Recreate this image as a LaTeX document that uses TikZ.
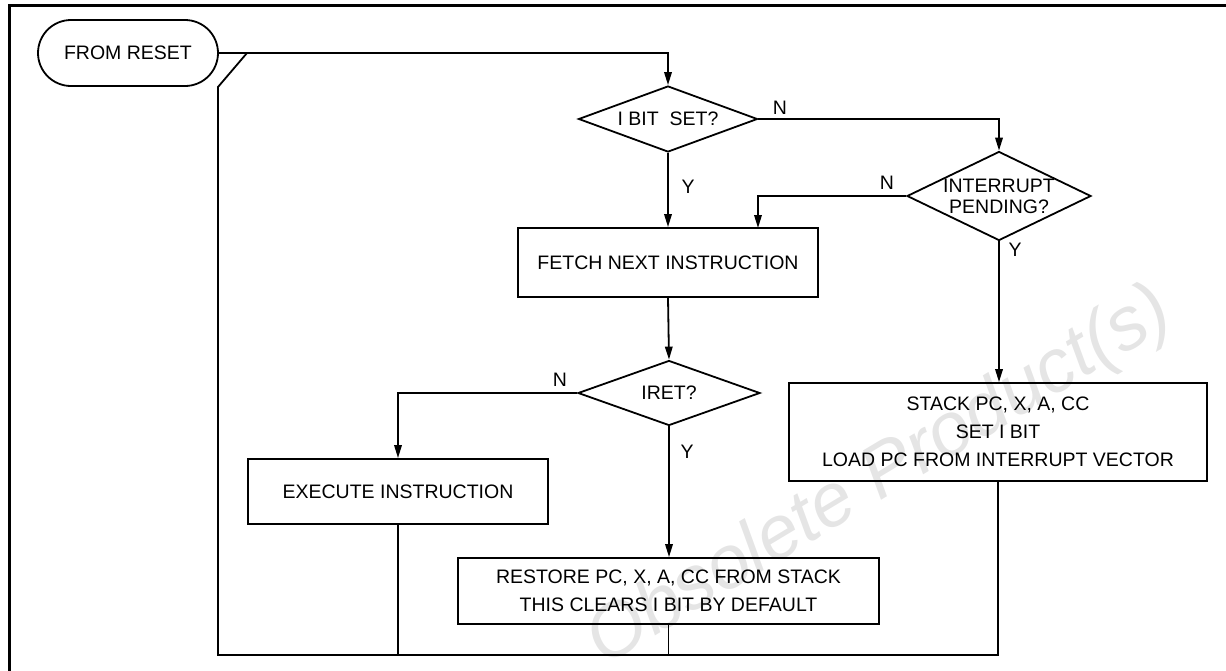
\documentclass[tikz,border=0pt]{standalone}
\usepackage{fontspec}
\setmainfont{Liberation Sans}
\usetikzlibrary{arrows.meta,shapes.geometric}
\begin{document}
\begin{tikzpicture}[x=1pt,y=-1pt,
  every node/.style={font=\fontsize{19.5}{21}\selectfont},
  ln/.style={line width=1.8pt},
  arr/.style={ln,-{Triangle[length=13pt,width=7.5pt]}},
  boxst/.style={draw,line width=1.8pt,rectangle,inner sep=0pt,align=center,font=\fontsize{19.5}{28}\selectfont},
  dia/.style={draw,line width=1.8pt,diamond,inner sep=0pt,align=center},
  lab/.style={inner sep=0pt}]
\useasboundingbox (0,0) rectangle (1226,670);
% watermark
\node[text=black!10,rotate=31,font=\fontsize{75}{80}\selectfont\itshape] (wm) at (880,478) {Obsolete Product(s)};
% frame
\draw[line width=3pt] (9,672) -- (9,5) -- (1228,5);
% nodes
\node[boxst,rounded corners=33pt,minimum width=180pt,minimum height=66pt] (reset) at (128,53) {FROM RESET};
\node[dia,minimum width=179pt,minimum height=66pt,label={[font=\fontsize{19.5}{21}\selectfont]center:I BIT\ \ SET?}] (ibit) at (668,119) {};
\node[dia,minimum width=184pt,minimum height=89pt,label={[align=center,font=\fontsize{19.5}{21}\selectfont]center:INTERRUPT\\PENDING?}] (intr) at (999,196) {};
\node[boxst,minimum width=300pt,minimum height=69pt] (fetch) at (668,262.5) {FETCH NEXT INSTRUCTION};
\node[dia,minimum width=182pt,minimum height=65pt,label={[font=\fontsize{19.5}{21}\selectfont]center:IRET?}] (iret) at (669,393) {};
\node[boxst,minimum width=300pt,minimum height=65pt] (exec) at (398,491.5) {EXECUTE INSTRUCTION};
\node[boxst,minimum width=421pt,minimum height=66pt] (restore) at (668.5,591) {RESTORE PC, X, A, CC FROM STACK\\THIS CLEARS I BIT BY DEFAULT};
\node[boxst,minimum width=418pt,minimum height=98pt] (stack) at (998,432) {STACK PC, X, A, CC\\SET I BIT\\LOAD PC FROM INTERRUPT VECTOR};
% coordinates
\coordinate (d1) at (247,53);
\coordinate (d2) at (218,87);
\coordinate (bl) at (218,655);
\coordinate (fn) at (758,228);
% connectors
\draw[arr] (reset.east) -| (ibit.north);
\draw[ln] (stack.south) |- (bl) -- (d2) -- (d1);
\draw[ln] (exec.south) -- (exec.south |- bl);
\draw[ln] (restore.south) -- (restore.south |- bl);
\draw[arr] (ibit.east) -| (intr.north);
\draw[arr] (ibit.south) -- (fetch.north);
\draw[arr] (intr.west) -| (fn);
\draw[arr] (intr.south) -- (intr.south |- stack.north);
\draw[arr] (fetch.south) -- (iret.north);
\draw[arr] (iret.west) -| (exec.north);
\draw[arr] (iret.south) -- (iret.south |- restore.north);
% labels
\node[lab] (n1) at (780,108) {N};
\node[lab] (n2) at (887,183) {N};
\node[lab] (y1) at (688,187) {Y};
\node[lab] (y2) at (1015,250) {Y};
\node[lab] (n3) at (560,380) {N};
\node[lab] (y3) at (687,452) {Y};
\end{tikzpicture}
\end{document}
